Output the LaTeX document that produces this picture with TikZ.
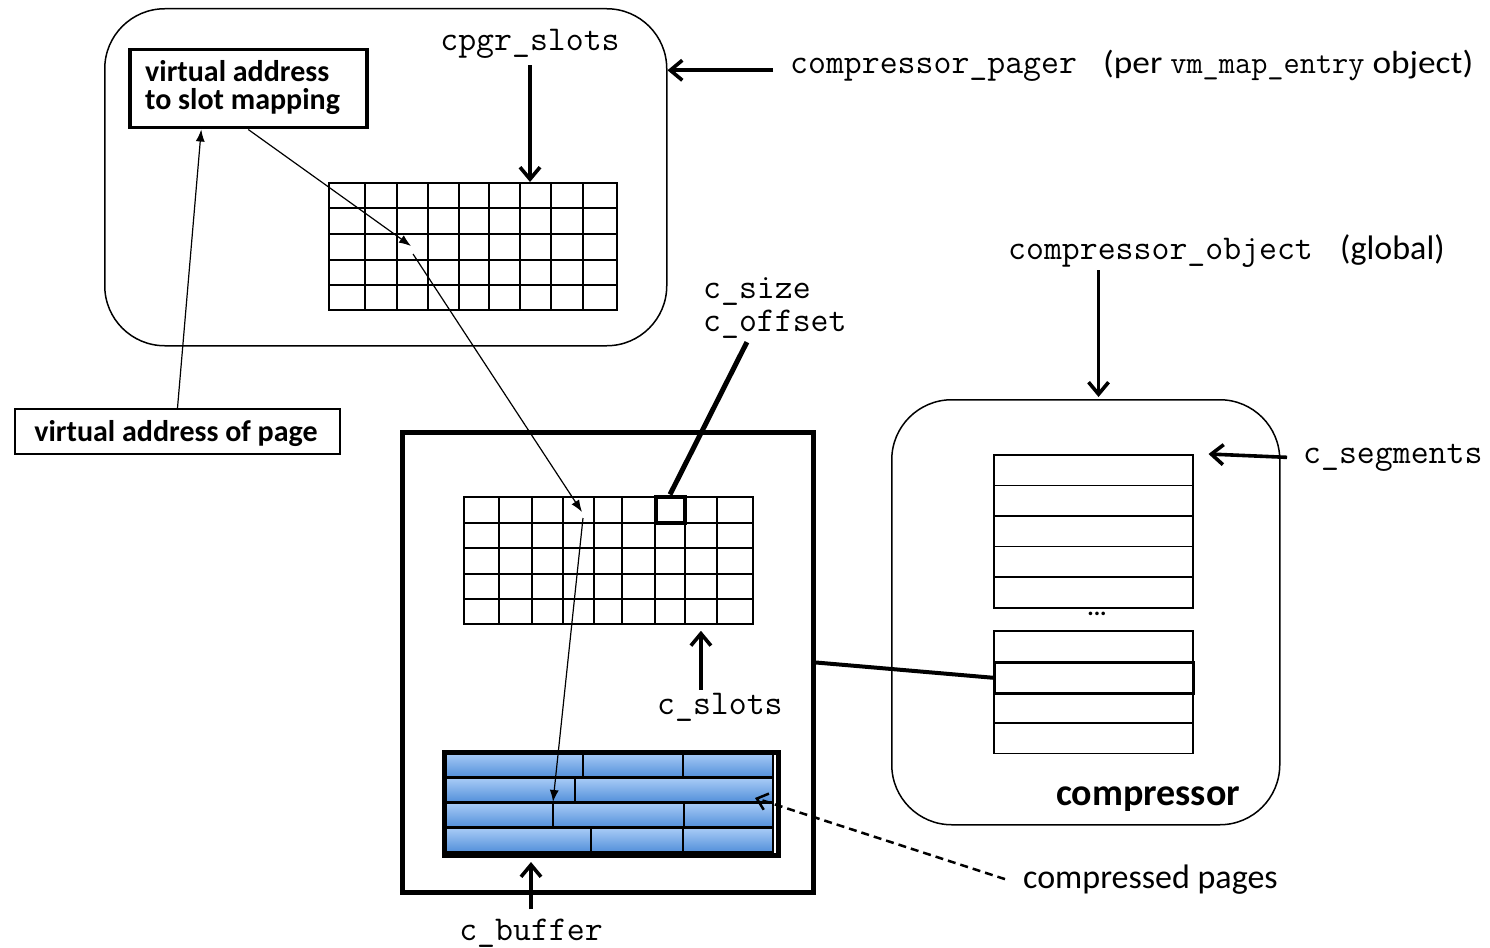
\documentclass[tikz,border=0pt]{standalone}
\usepackage{fontspec}
\setmainfont{Carlito}
\usepackage{graphicx}
\usetikzlibrary{arrows.meta}
\definecolor{pgtop}{HTML}{A8CBF6}
\definecolor{pgbot}{HTML}{5390DA}
\begin{document}
\begin{tikzpicture}[x=1pt,y=-1pt,
  mono/.style={font=\fontsize{34.8}{38}\selectfont\ttfamily, inner sep=0pt, anchor=base west},
  lbl/.style={font=\fontsize{30}{34}\selectfont\bfseries, inner sep=0pt},
  plain/.style={font=\fontsize{34}{38}\selectfont, inner sep=0pt, anchor=base west},
  frame/.style={draw, inner sep=0pt, anchor=north west, line width=1.5pt, rounded corners=60pt},
  sqbox/.style={draw, inner sep=0pt, anchor=north west},
  heavy/.style={line width=3.6pt, -{Straight Barb[length=12pt,width=20pt]}},
  fine/.style={line width=1.2pt, -{Latex[length=12pt,width=9pt]}},
  gridline/.style={line width=1.8pt},
  page/.style={draw=black, line width=1.5pt, top color=pgtop, bottom color=pgbot},
  seg/.style={draw, line width=1.5pt, inner sep=0pt, minimum width=199pt, minimum height=30.6pt, anchor=north west},
]
\useasboundingbox (0,0) rectangle (1490,947);

% ---------- compressor pager ----------
\node[frame, minimum width=562pt, minimum height=337pt] (pager) at (104,8) {};
\node[sqbox, line width=3.5pt, minimum width=237pt, minimum height=78pt] (mapbox) at (128,48) {};
\node[lbl, anchor=base west] (maptxtA) at (145,82) {virtual address};
\node[lbl, anchor=base west] (maptxtB) at (145,110) {to slot mapping};

% cpgr_slots table
\node[sqbox, gridline, minimum width=288pt, minimum height=127pt] (slots1) at (328,182) {};
\foreach \x in {365,397,428,459,489,520,551,583} \draw[gridline] (\x,182) -- (\x,309);
\foreach \y in {208,234,260,285} \draw[gridline] (328,\y) -- (616,\y);

\node[mono, anchor=base] (cpgr) at (530,51) {cpgr\_slots};
\draw[heavy, shorten <=6pt] (cpgr.south) -- (cpgr.south |- slots1.north);

\node[mono] (cpager) at (790,74) {compressor\_pager};
\node[anchor=base west, inner sep=0pt] (perentry) at (1103,74)
  {\resizebox{370pt}{\height}{\fontsize{32}{36}\selectfont (per {\ttfamily\scalebox{0.89}[1]{vm\_map\_entry}} object)}};
\draw[heavy] ([xshift=-17pt]cpager.west) -- (cpager.west -| pager.east);

% ---------- virtual address of page ----------
\node[sqbox, line width=2pt, minimum width=325pt, minimum height=45pt] (vapage) at (14,408) {};
\node[lbl, anchor=base] (vatxt) at (176,441) {virtual address of page};
\draw[fine] (vapage.north) -- ([xshift=-47pt]mapbox.south);

% ---------- segment ----------
\node[sqbox, line width=5pt, minimum width=411pt, minimum height=460pt] (bigbox) at (400,430) {};

% c_slots table
\node[sqbox, gridline, minimum width=289pt, minimum height=127pt] (slots2) at (463,496) {};
\foreach \x in {499,532,563,594,622,655,685,717} \draw[gridline] (\x,496) -- (\x,623);
\foreach \y in {523,548,574,599} \draw[gridline] (463,\y) -- (752,\y);
\node[draw, line width=4pt, inner sep=0pt, minimum width=29pt, minimum height=26pt] (slot) at (670,509.5) {};

\node[mono] (csize) at (703,298) {c\_size};
\node[mono] (coffset) at (703,331) {c\_offset};
\draw[line width=5pt] ([xshift=-28pt,yshift=-4pt]coffset.south) -- (slot.north);

\node[mono] (cslots) at (657,714) {c\_slots};
\coordinate (cslotsarrow) at ([xshift=-19pt]cslots.north);
\draw[heavy, shorten <=3pt, shorten >=6pt] (cslotsarrow) -- (cslotsarrow |- slots2.south);

% compressed pages buffer
\foreach \a/\b/\t in {445/583/753, 583/683/753, 683/773/753,
                      445/575/778, 575/773/778,
                      445/553/803, 553/684/803, 684/773/803,
                      445/591/828, 591/683/828, 683/773/828}
  \draw[page] (\a,\t) rectangle (\b,{\t+24});
\node[sqbox, line width=5pt, minimum width=334pt, minimum height=103pt] (cbuf) at (442,750) {};

\node[mono, anchor=base] (cbuflbl) at (531,940) {c\_buffer};
\draw[heavy, shorten <=9pt, shorten >=4pt] (cbuflbl.north) -- (cbuflbl.north |- cbuf.south);

\node[plain] (cpages) at (1023,888) {compressed pages};
\coordinate (cpagetip) at (755,798);
\draw[line width=2.5pt, dash pattern=on 8pt off 5pt, -{Straight Barb[length=10pt,width=17pt]}]
  ([xshift=-18pt]cpages.west) -- (cpagetip);

% mapping path: virtual address -> slot -> c_slots entry -> compressed data
\coordinate (slotA) at (411,246);
\coordinate (slotAout) at (413,254);
\coordinate (slotB) at (582,512);
\coordinate (slotBout) at (583,518);
\coordinate (pageC) at (553,802);
\draw[fine] (mapbox.south) -- (slotA);
\draw[fine] (slotAout) -- (slotB);
\draw[fine] (slotBout) -- (pageC);

% ---------- compressor ----------
\node[frame, minimum width=388pt, minimum height=425pt] (comp) at (891,399) {};
\foreach \i/\y in {1/454,2/484.6,3/515.2,4/545.8,5/576.4}
  \node[seg] (segA\i) at (993,\y) {};
\foreach \i/\y in {1/630,3/691.5,4/722}
  \node[seg, minimum height=30.5pt] (segB\i) at (993,\y) {};
\node[seg, line width=3pt, minimum height=30.5pt] (seghi) at (993,661) {};
\node[font=\fontsize{24}{26}\selectfont\bfseries, inner sep=0pt] (dots) at (1097,614) {...};
\node[font=\fontsize{38}{42}\selectfont\bfseries, inner sep=0pt, anchor=base] (complbl) at (1148,805) {compressor};

\draw[line width=4pt] (bigbox.east) -- (seghi.west);

\node[mono] (cobj) at (1008,259) {compressor\_object};
\node[plain] (global) at (1340,259) {(global)};
\coordinate (cobjarrow) at ([xshift=-62pt]cobj.south);
\draw[heavy, shorten <=3pt, shorten >=2pt] (cobjarrow) -- (cobjarrow |- comp.north);

\node[mono] (csegs) at (1303,463) {c\_segments};
\draw[heavy] ([xshift=-16pt]csegs.west) -- ([xshift=15pt]segA1.north east);
\end{tikzpicture}
\end{document}
